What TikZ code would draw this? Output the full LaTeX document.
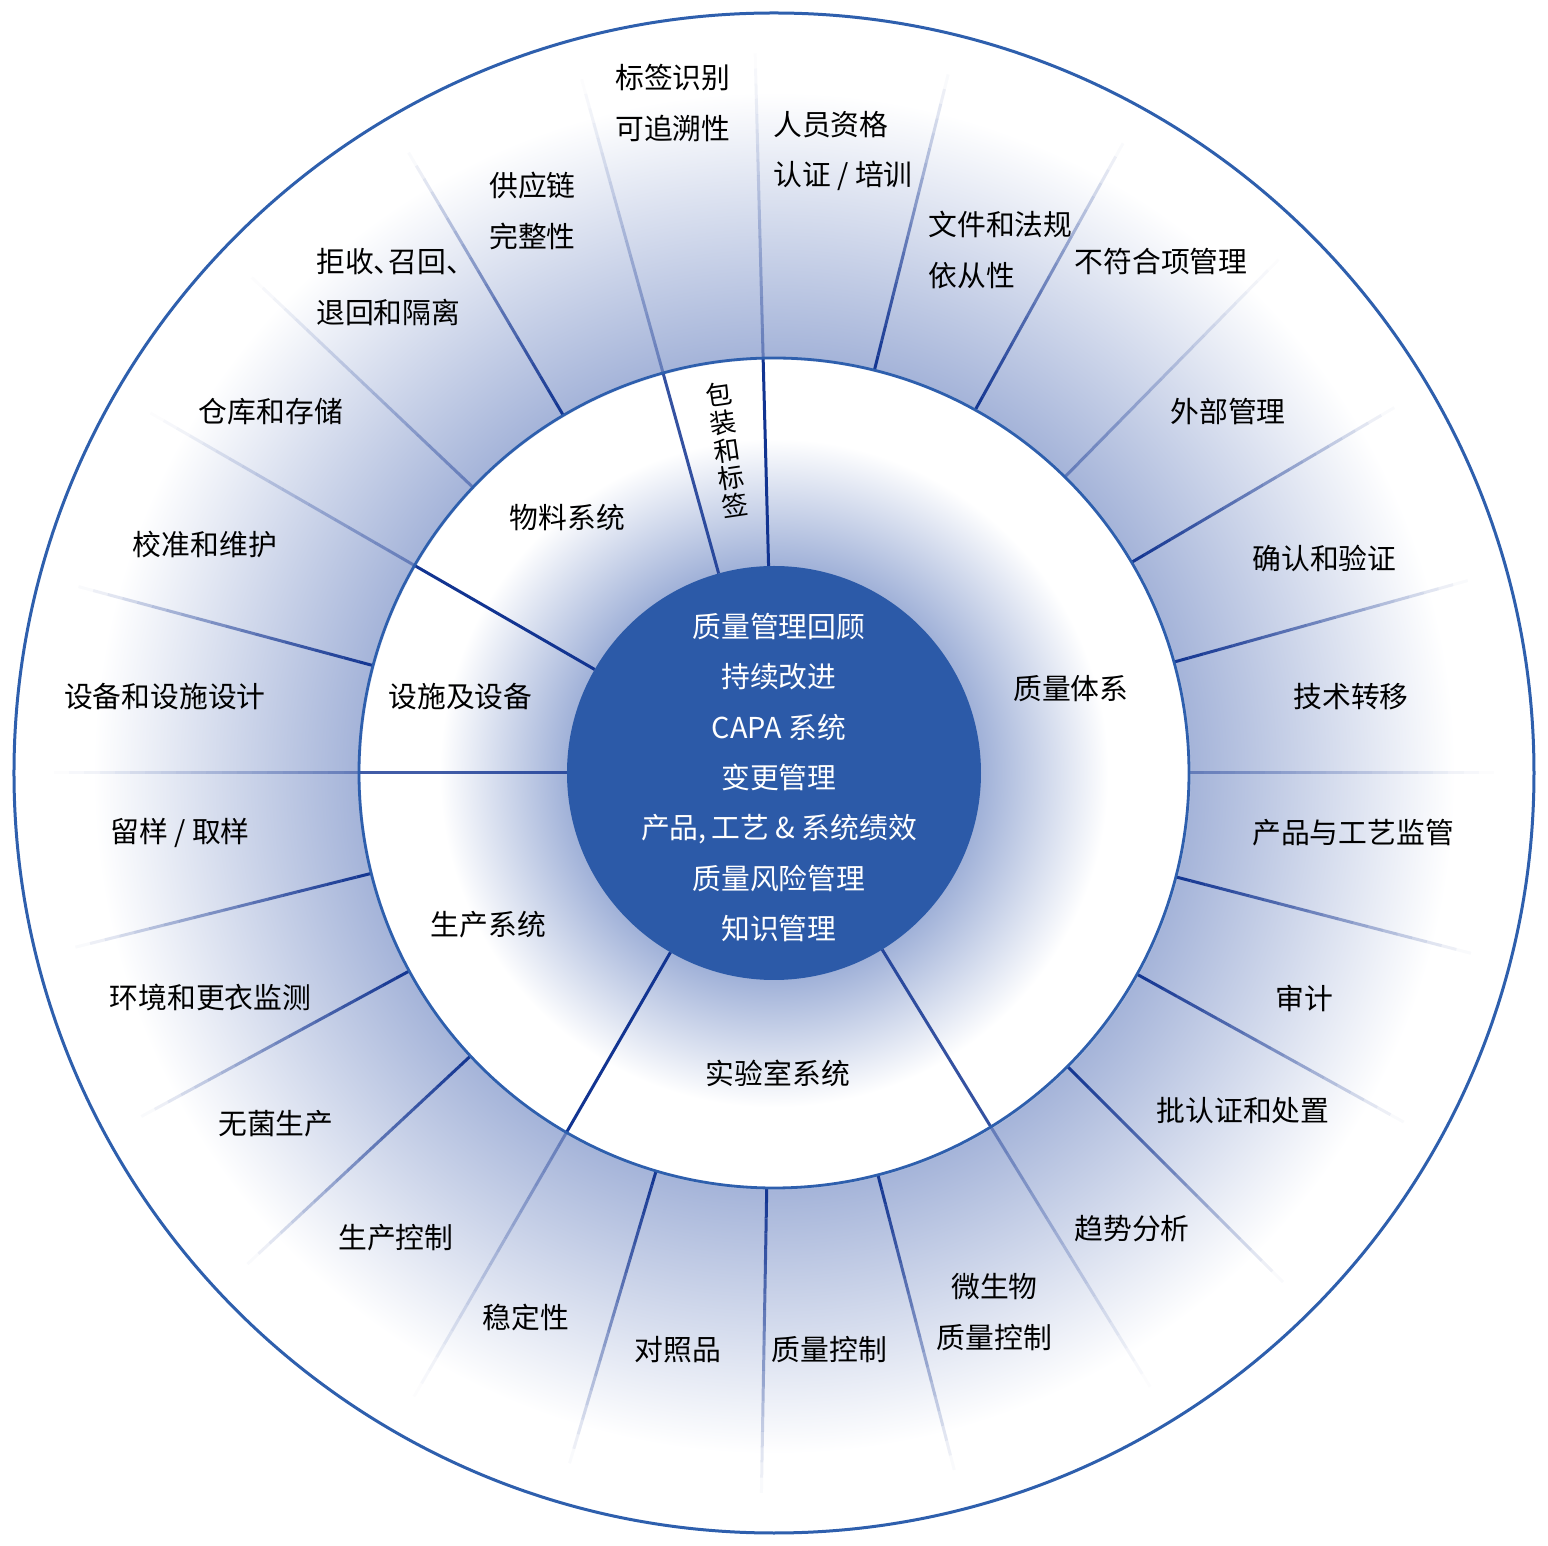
\documentclass[tikz,border=0pt]{standalone}
\usepackage{fontspec}
\setmainfont{Noto Sans CJK SC}
\newfontfamily\halffont[RawFeature=+halt]{Noto Sans CJK SC}
\usepackage{tikz}

\definecolor{diskblue}{RGB}{44,90,168}
\definecolor{glowblue}{RGB}{160,177,216}
\definecolor{ringblue}{RGB}{165,180,217}
\definecolor{rimblue}{RGB}{46,95,173}
\definecolor{spokeblue}{RGB}{18,52,145}

\pgfdeclareradialshading{wheelglow}{\pgfpointorigin}{%
  color(0bp)=(glowblue); color(6.8bp)=(glowblue); color(11bp)=(white);
  color(13.6bp)=(white); color(13.7bp)=(ringblue); color(22.4bp)=(white);
  color(25bp)=(white); color(50bp)=(white)}

\newcommand\stackfont{\fontsize{13.2pt}{14pt}\selectfont\lineskiplimit=-100pt\relax}

\begin{document}
\begin{tikzpicture}[x=0.5pt, y=0.5pt]
        \tikzstyle{spoke}=[spokeblue, line width=1.5pt]
        \tikzstyle{rim}=[rimblue, line width=1.4pt]
        \tikzstyle{lbl}=[font=\fontsize{14.4pt}{25.2pt}\selectfont,
            align=center, inner sep=0pt]
        \tikzstyle{lblleft}=[lbl, align=left, anchor=west]

            \useasboundingbox (-774,-773) rectangle (774,773);
            \shade[shading=wheelglow] (0,0) circle (760);

            \foreach \a/\o in {76/1, 61/1, 45.5/.45, 30.5/1, 15.5/1, 0/.45,
                345.5/1, 331/1, 315/1, 301.5/.45, 284.5/1, 269/1, 253.5/1,
                240/.45, 223/1, 208.5/1, 194/1, 180/.45, 165/1, 150/.45,
                136.5/.45, 120.5/1, 105.5/.45, 91.5/.45}{
              \foreach \i in {0,...,19}{
                \pgfmathsetmacro\op{\o*(1-(\i+.5)/20)}
                \pgfmathsetmacro\ra{415+15.25*\i}
                \pgfmathsetmacro\rb{\ra+15.25}
                \draw[spoke, draw opacity=\op] (\a:\ra) -- (\a:\rb);
              }
            }

            \foreach \a/\o in {91.5/1, 105.5/.85, 150/1, 180/.8, 240/1, 301.5/.85}
              \draw[spoke, draw opacity=\o] (\a:207) -- (\a:415);

            \draw[rim] (0,0) circle (415);
            \draw[rim, line width=1.5pt] (0,0) circle (760);
            \fill[diskblue] (0,0) circle (207);

            \node[lbl, text=white] (core) at (5,-4.5)
            {质量管理回顾\\持续改进\\CAPA 系统\\变更管理\\产品,\,工艺 \& 系统绩效\\质量风险管理\\知识管理};

            \node[lbl] (material) at (-206.5,255) {物料系统};
            \node[lbl, rotate=8.5, font=\stackfont]
            (packaging) at (-47,323) {包\\装\\和\\标\\签};
            \node[lbl] (facility) at (-313.5,76) {设施及设备};
            \node[lbl] (production) at (-285.5,-152) {生产系统};
            \node[lbl] (lab) at (4,-300) {实验室系统};
            \node[lbl] (qsystem) at (297,84) {质量体系};

            \node[lblleft] (staff) at (-1,622) {人员资格\\认证 / 培训};
            \node[lbl] (tracing) at (-101,670) {标签识别\\可追溯性};
            \node[lblleft] (supply) at (-285,562) {供应链\\完整性};
            \node[lblleft] (reject) at (-458,486) {{\halffont 拒收、召回、}\\退回和隔离};
            \node[lbl] (warehouse) at (-503,361) {仓库和存储};
            \node[lbl] (calib) at (-569,228) {校准和维护};
            \node[lbl] (design) at (-609,76) {设备和设施设计};
            \node[lbl] (sampling) at (-594,-60) {留样 / 取样};
            \node[lbl] (envmon) at (-563.5,-225) {环境和更衣监测};
            \node[lbl] (aseptic) at (-498,-351) {无菌生产};
            \node[lbl] (prodctl) at (-378,-465) {生产控制};
            \node[lbl] (stability) at (-248,-544) {稳定性};
            \node[lbl] (refstd) at (-96,-577) {对照品};
            \node[lbl] (qcontrol) at (55.5,-577) {质量控制};
            \node[lbl] (microqc) at (220.5,-539) {微生物\\质量控制};
            \node[lbl] (trend) at (358,-456) {趋势分析};
            \node[lbl] (batch) at (469,-338) {批认证和处置};
            \node[lbl] (audit) at (530,-225) {审计};
            \node[lbl] (monitor) at (579,-60) {产品与工艺监管};
            \node[lbl] (transfer) at (577,76) {技术转移};
            \node[lbl] (qualval) at (550.5,215) {确认和验证};
            \node[lbl] (external) at (454,361) {外部管理};
            \node[lbl] (nonconf) at (387,511) {不符合项管理};
            \node[lblleft] (docs) at (154,523) {文件和法规\\依从性};
        \end{tikzpicture}
\end{document}
